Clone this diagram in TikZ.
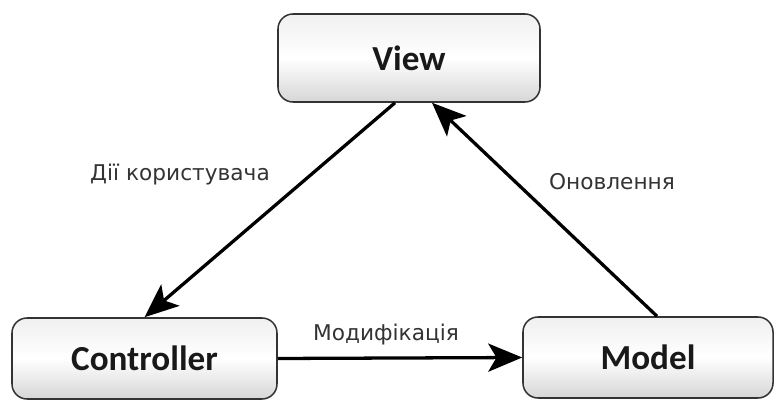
\documentclass[tikz,border=0pt]{standalone}
\usepackage{fontspec}
\usetikzlibrary{arrows.meta}
\newfontfamily\boxfont{Carlito}
\newfontfamily\labelfont{DejaVu Sans}

\begin{document}
\begin{tikzpicture}[x=0.03cm, y=0.03cm,
    part/.style={draw=black!80, line width=1.3pt, rounded corners=0.45cm,
        top color=gray!12, bottom color=gray!32, middle color=white,
        text=black!90, font=\boxfont\bfseries\fontsize{30}{36}\selectfont,
        minimum height=2.43cm, inner sep=0pt},
    arr/.style={line width=2.8pt, -{Stealth[length=29pt, width=24pt, inset=7pt]}},
    lbl/.style={text=black!80, font=\labelfont\fontsize{18.5}{22}\selectfont}]
    \useasboundingbox (0,0) rectangle (777,402);

    \node[part, minimum width=7.86cm, minimum height=2.64cm] at (409,344) (View) {View};
    \node[part, minimum width=7.95cm] at (144.5,43.5) (Controller) {Controller};
    \node[part, minimum width=7.5cm] at (648,44.5) (Model) {Model};

    \node[lbl] at (180,227) (Actions) {Дії користувача};
    \node[lbl] at (612,220) (Update) {Оновлення};
    \node[lbl] at (386,67) (Change) {Модифікація};

    \draw[arr] ([xshift=-0.42cm]View.south) -- (Controller.north);
    \draw[arr] ([xshift=0.27cm]Model.north) -- ([xshift=0.69cm]View.south);
    \draw[arr] (Controller.east) -- (Model.west);
\end{tikzpicture}
\end{document}
